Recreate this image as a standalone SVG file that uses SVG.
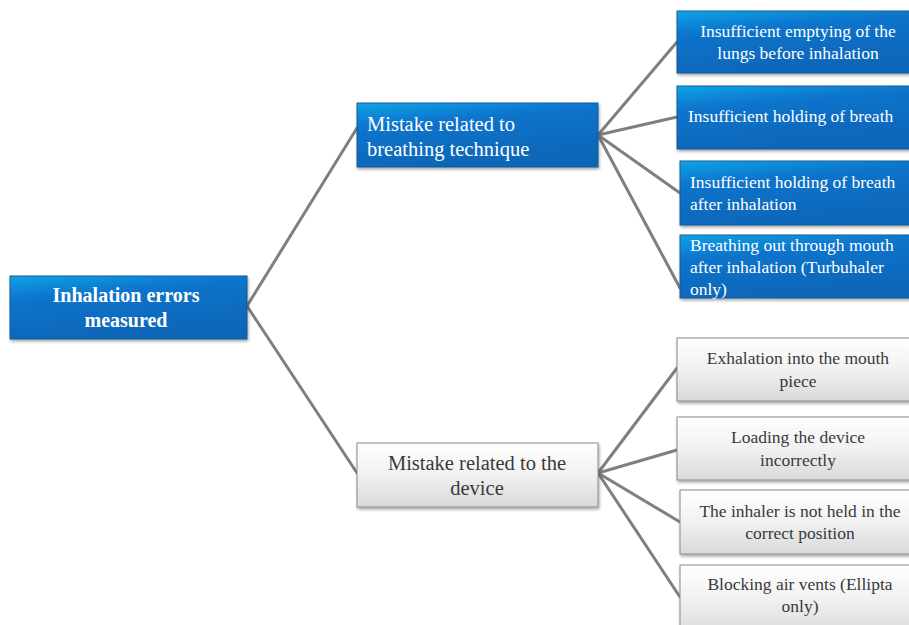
<svg xmlns="http://www.w3.org/2000/svg" width="909" height="625" viewBox="0 0 909 625">
<defs>
<linearGradient id="blue" x1="0" y1="0" x2="0.35" y2="1">
<stop offset="0" stop-color="#12a3e6"/>
<stop offset="0.35" stop-color="#0874cc"/>
<stop offset="1" stop-color="#0866b8"/>
</linearGradient>
<linearGradient id="grey" x1="0" y1="0" x2="0" y2="1">
<stop offset="0" stop-color="#ffffff"/>
<stop offset="0.5" stop-color="#f1f1f1"/>
<stop offset="1" stop-color="#d9d9d9"/>
</linearGradient>
<filter id="sh" x="-5%" y="-10%" width="115%" height="130%">
<feGaussianBlur in="SourceAlpha" stdDeviation="1.5"/>
<feOffset dx="1" dy="2" result="b"/>
<feComponentTransfer><feFuncA type="linear" slope="0.35"/></feComponentTransfer>
<feMerge><feMergeNode/><feMergeNode in="SourceGraphic"/></feMerge>
</filter>
</defs>
<style>
.b{fill:url(#blue);stroke:#1a5a98;stroke-width:1;filter:url(#sh)}
.g{fill:url(#grey);stroke:#8a8a8a;stroke-width:1;filter:url(#sh)}
text{font-family:'Liberation Serif','DejaVu Serif',serif}
.tw{fill:#ffffff}
.tg{fill:#3a3a3a}
.c{stroke:#7f7f7f;stroke-width:3;fill:none;stroke-linecap:round}
</style>
<rect width="909" height="625" fill="#ffffff"/>
<g id="connectors">
<line class="c" x1="247" y1="306" x2="357" y2="128"/>
<line class="c" x1="247" y1="306" x2="357" y2="473"/>
<line class="c" x1="598" y1="135" x2="677" y2="42"/>
<line class="c" x1="598" y1="135" x2="677" y2="117"/>
<line class="c" x1="598" y1="135" x2="680" y2="193"/>
<line class="c" x1="598" y1="135" x2="680" y2="288"/>
<line class="c" x1="598" y1="473" x2="677" y2="368"/>
<line class="c" x1="598" y1="473" x2="677" y2="450"/>
<line class="c" x1="598" y1="473" x2="680" y2="522"/>
<line class="c" x1="598" y1="473" x2="680" y2="597"/>
</g>
<g id="root">
<rect class="b" x="10" y="276" width="237" height="63"/>
<text class="tw" font-family="Liberation Serif, serif" font-size="20" font-weight="bold" text-anchor="middle"><tspan x="126" y="302">Inhalation errors</tspan><tspan x="126" y="327">measured</tspan></text>
</g>
<g id="breathing">
<rect class="b" x="357" y="103" width="241" height="64"/>
<text class="tw" font-family="Liberation Serif, serif" font-size="20.5"><tspan x="367" y="131">Mistake related to</tspan><tspan x="367" y="156">breathing technique</tspan></text>
</g>
<g id="device">
<rect class="g" x="357" y="443" width="241" height="64"/>
<text class="tg" font-family="Liberation Serif, serif" font-size="20.5" text-anchor="middle"><tspan x="477" y="470">Mistake related to the</tspan><tspan x="477" y="495">device</tspan></text>
</g>
<g id="b1">
<rect class="b" x="677" y="11" width="240" height="62"/>
<text class="tw" font-family="Liberation Serif, serif" font-size="17.5" text-anchor="middle"><tspan x="798" y="37">Insufficient emptying of the</tspan><tspan x="798" y="59">lungs before inhalation</tspan></text>
</g>
<g id="b2">
<rect class="b" x="677" y="86" width="240" height="63"/>
<text class="tw" font-family="Liberation Serif, serif" font-size="17.5"><tspan x="688" y="122">Insufficient holding of breath</tspan></text>
</g>
<g id="b3">
<rect class="b" x="680" y="161" width="240" height="64"/>
<text class="tw" font-family="Liberation Serif, serif" font-size="17.5"><tspan x="690" y="188">Insufficient holding of breath</tspan><tspan x="690" y="210">after inhalation</tspan></text>
</g>
<g id="b4">
<rect class="b" x="680" y="235" width="240" height="63"/>
<text class="tw" font-family="Liberation Serif, serif" font-size="17.5"><tspan x="690" y="251">Breathing out through mouth</tspan><tspan x="690" y="273">after inhalation (Turbuhaler</tspan><tspan x="690" y="295">only)</tspan></text>
</g>
<g id="g1">
<rect class="g" x="677" y="338" width="240" height="63"/>
<text class="tg" font-family="Liberation Serif, serif" font-size="17.5" text-anchor="middle"><tspan x="798" y="364">Exhalation into the mouth</tspan><tspan x="798" y="387">piece</tspan></text>
</g>
<g id="g2">
<rect class="g" x="677" y="417" width="240" height="63"/>
<text class="tg" font-family="Liberation Serif, serif" font-size="17.5" text-anchor="middle"><tspan x="798" y="443">Loading the device</tspan><tspan x="798" y="466">incorrectly</tspan></text>
</g>
<g id="g3">
<rect class="g" x="680" y="490" width="240" height="64"/>
<text class="tg" font-family="Liberation Serif, serif" font-size="17.5" text-anchor="middle"><tspan x="800" y="517">The inhaler is not held in the</tspan><tspan x="800" y="539">correct position</tspan></text>
</g>
<g id="g4">
<rect class="g" x="680" y="565" width="240" height="70"/>
<text class="tg" font-family="Liberation Serif, serif" font-size="17.5" text-anchor="middle"><tspan x="800" y="590">Blocking air vents (Ellipta</tspan><tspan x="800" y="612">only)</tspan></text>
</g>
</svg>
